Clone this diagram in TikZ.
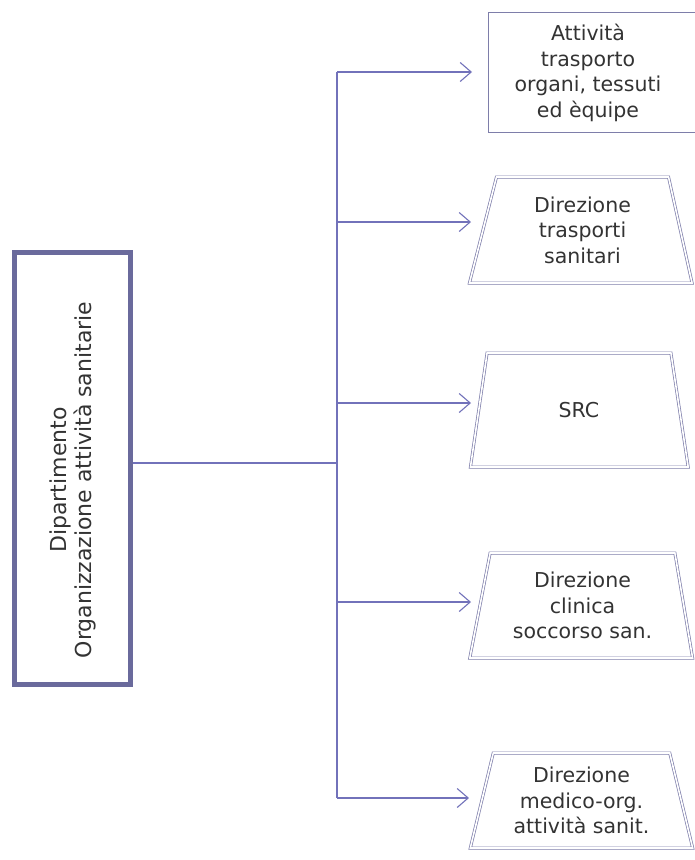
\documentclass[tikz,border=0pt]{standalone}
\usepackage{fontspec}
\setmainfont{DejaVu Sans}
\usetikzlibrary{shapes.geometric,arrows.meta}
\definecolor{ln}{HTML}{7272BA}
\definecolor{frame}{HTML}{6A6A9C}
\definecolor{dbl}{HTML}{7E7EAA}
\begin{document}
\begin{tikzpicture}[x=1pt,y=-1pt,
  conn/.style={draw=ln, line width=1.1pt},
  arr/.style={conn, -{Straight Barb[length=11pt,width=19pt,line width=1.1pt]}},
  lbl/.style={font=\fontsize{20.5}{25.5}\selectfont, align=center, text=black!80, inner sep=0pt},
  trap/.style={trapezium, trapezium stretches=true, draw=dbl, double=white, double distance=1.6pt, line width=0.7pt, inner sep=0pt, lbl},
  box/.style={draw=dbl, line width=0.9pt, inner sep=0pt},
]
\useasboundingbox[fill=white] (0,0) rectangle (694,860);

% left department box
\node[draw=frame, line width=5pt, minimum width=116pt, minimum height=432pt, inner sep=0pt] (lb) at (72.5,468.5) {};
\node[lbl, rotate=90, font=\fontsize{22}{25}\selectfont] (lbt) at (73,480) {Dipartimento\\Organizzazione attività sanitarie};

% right boxes
\node[box, minimum width=214pt, minimum height=120pt] (b1) at (595,72) {};
\node[lbl] (b1t) at (588,73) {Attività\\trasporto\\organi, tessuti\\ed èquipe};

\node[trap, minimum width=223pt, minimum height=106pt, trapezium left angle=77.2, trapezium right angle=78.8] (b2) at (582.5,230) {Direzione\\trasporti\\sanitari};
\node[trap, minimum width=218pt, minimum height=114pt, trapezium left angle=76.7, trapezium right angle=76.2] (b3) at (579,410) {SRC};
\node[trap, minimum width=223pt, minimum height=105pt, trapezium left angle=77.1, trapezium right angle=78.7] (b4) at (582.5,605.5) {Direzione\\clinica\\soccorso san.};
\node[trap, minimum width=223pt, minimum height=95pt, trapezium left angle=75.2, trapezium right angle=75.2] (b5) at (581.5,800.5) {Direzione\\medico-org.\\attività sanit.};

% connectors
\coordinate (jm) at (337,463);
\coordinate (j1) at (337,72);
\coordinate (j2) at (337,222);
\coordinate (j3) at (337,403);
\coordinate (j4) at (337,602);
\coordinate (j5) at (337,798);
\coordinate (t1) at (472,72);
\coordinate (t2) at (471,222);
\coordinate (t3) at (471,403);
\coordinate (t4) at (471,602);
\coordinate (t5) at (469,798);

\draw[conn] (lb.east |- jm) -- (jm);
\draw[conn] (j1) -- (j5);
\draw[arr] (j1) -- (t1);
\draw[arr] (j2) -- (t2);
\draw[arr] (j3) -- (t3);
\draw[arr] (j4) -- (t4);
\draw[arr] (j5) -- (t5);
\end{tikzpicture}
\end{document}
